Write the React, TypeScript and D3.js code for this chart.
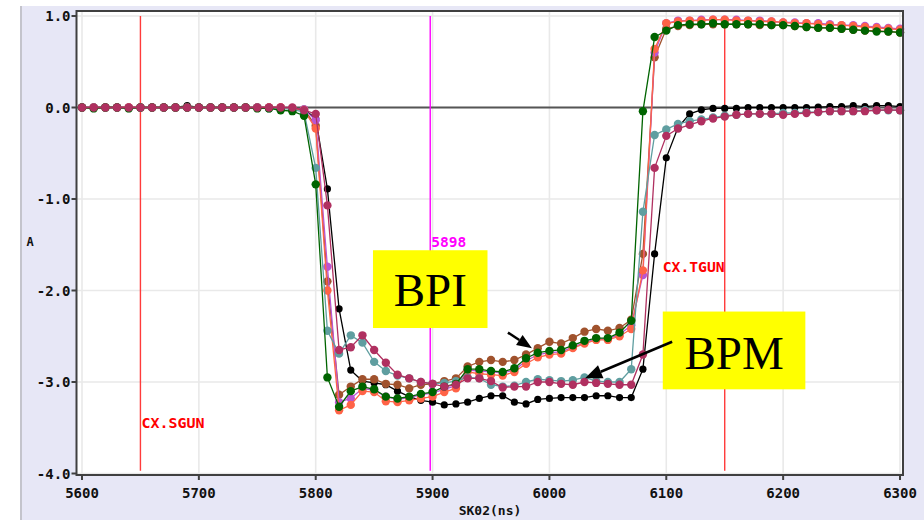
import React from 'react';
import * as d3 from 'd3';

// sample times, every 10 ns
const times = d3.range(5600, 6301, 10);

const xTicks = [5600, 5700, 5800, 5900, 6000, 6100, 6200, 6300];
const yTicks = [1, 0, -1, -2, -3, -4];

// values, 5600..6300 ns
const black = [
  0, 0, 0.005, 0, 0, 0, 0, 0, 0, 0.02,
  0, 0, 0, 0, 0, 0, 0, 0, -0.01, -0.02,
  -0.12, -0.89, -2.2, -2.87, -2.99, -3.01, -3.03, -3.1, -3.16, -3.2,
  -3.22, -3.25, -3.24, -3.22, -3.18, -3.15, -3.15, -3.22, -3.24, -3.19,
  -3.18, -3.17, -3.17, -3.17, -3.15, -3.15, -3.17, -3.17, -2.86, -1.6,
  -0.55, -0.22, -0.07, -0.025, -0.01, -0.01, -0.01, 0, 0, 0,
  0, 0, 0, 0.005, 0.01, 0.01, 0.02, 0.01, 0.02, 0.02,
  0.01,
];
const teal = [
  0, 0, 0, 0, -0.005, 0, 0, 0, 0, 0,
  0, 0, 0, 0, 0, 0, -0.01, -0.01, -0.02, -0.05,
  -0.66, -2.44, -2.69, -2.49, -2.57, -2.78, -2.88, -2.93, -2.96, -3.0,
  -3.02, -3.01, -2.99, -2.95, -2.96, -3.03, -3.05, -3.04, -3.0, -2.97,
  -2.98, -2.99, -2.98, -2.95, -2.99, -3.0, -3.0, -2.86, -1.14, -0.3,
  -0.24, -0.18, -0.15, -0.13, -0.11, -0.09, -0.08, -0.07, -0.07, -0.07,
  -0.06, -0.06, -0.05, -0.05, -0.04, -0.04, -0.04, -0.03, -0.03, -0.03,
  -0.03,
];
const maroon = [
  0, 0, 0, 0, 0, 0, 0, 0, 0, 0,
  0, 0, 0, 0, 0, 0, 0, 0, 0, -0.03,
  -0.07, -1.07, -2.65, -2.62, -2.49, -2.65, -2.79, -2.92, -2.96, -3.0,
  -3.02, -3.05, -3.03, -2.96, -2.96, -2.99, -3.06, -3.05, -3.05, -3.0,
  -3.0, -3.02, -3.03, -3.0, -3.01, -3.02, -3.03, -3.03, -2.7, -0.66,
  -0.31, -0.23, -0.19, -0.15, -0.12, -0.1, -0.08, -0.07, -0.07, -0.07,
  -0.08, -0.07, -0.06, -0.05, -0.04, -0.04, -0.04, -0.04, -0.03, -0.025,
  -0.03,
];
const green = [
  0, -0.01, 0, 0, -0.01, 0, 0, 0, 0, 0,
  0, 0, 0, 0, 0, -0.01, -0.01, -0.03, -0.04, -0.09,
  -0.84, -2.95, -3.27, -3.1, -3.05, -3.08, -3.16, -3.18, -3.16, -3.13,
  -3.11, -3.05, -3.02, -2.86, -2.86, -2.88, -2.89, -2.85, -2.74, -2.68,
  -2.66, -2.65, -2.6, -2.55, -2.52, -2.52, -2.46, -2.33, -0.04, 0.77,
  0.84, 0.9, 0.91, 0.91, 0.92, 0.91, 0.91, 0.91, 0.91, 0.9,
  0.9, 0.89, 0.88, 0.87, 0.87, 0.86, 0.85, 0.84, 0.83, 0.83,
  0.82,
];
const tomato = [
  0, 0, 0, 0, 0, 0, 0, 0, 0, 0,
  0, 0, 0, 0, 0, 0, 0, 0, -0.01, -0.03,
  -0.23, -2.0, -3.31, -3.25, -3.1, -3.11, -3.21, -3.22, -3.2, -3.18,
  -3.16, -3.11, -3.07, -2.89, -2.91, -2.92, -2.93, -2.89, -2.8, -2.73,
  -2.7, -2.69, -2.63, -2.58, -2.54, -2.54, -2.5, -2.42, -1.78, 0.64,
  0.92, 0.94, 0.95, 0.95, 0.96, 0.96, 0.95, 0.95, 0.94, 0.94,
  0.93, 0.92, 0.92, 0.91, 0.9, 0.9, 0.89, 0.88, 0.87, 0.86,
  0.85,
];
const orchid = [
  0, 0, 0, 0, 0, 0, 0, 0, 0, 0,
  0, 0, 0, 0, 0, 0, 0, 0, -0.01, -0.02,
  -0.14, -1.74, -3.22, -3.18, -3.07, -3.09, -3.16, -3.19, -3.17, -3.14,
  -3.12, -3.08, -3.04, -2.87, -2.88, -2.89, -2.9, -2.87, -2.77, -2.7,
  -2.68, -2.67, -2.62, -2.57, -2.53, -2.53, -2.48, -2.38, -1.83, 0.6,
  0.92, 0.95, 0.95, 0.96, 0.96, 0.96, 0.96, 0.95, 0.95, 0.94,
  0.93, 0.93, 0.92, 0.92, 0.91, 0.9, 0.9, 0.89, 0.88, 0.87,
  0.86,
];
const sienna = [
  0, 0, 0, 0, 0, 0, 0, 0, 0, 0,
  0, 0, 0, 0, 0, 0, 0, 0, -0.01, -0.02,
  -0.2, -1.9, -3.14, -3.05, -2.97, -2.97, -3.02, -3.03, -3.07, -3.03,
  -3.02, -2.99, -2.96, -2.83, -2.78, -2.76, -2.78, -2.76, -2.7, -2.63,
  -2.56, -2.58, -2.52, -2.45, -2.42, -2.44, -2.41, -2.32, -1.6, 0.55,
  0.86, 0.89, 0.9, 0.91, 0.91, 0.91, 0.91, 0.91, 0.9, 0.9,
  0.9, 0.89, 0.88, 0.87, 0.87, 0.86, 0.85, 0.84, 0.84, 0.83,
  0.82,
];

// drawing order, bottom first
const series = [
  { name: 'black', values: black, color: '#000000', r: 3.6 },
  { name: 'sienna', values: sienna, color: '#a0522d', r: 4.2 },
  { name: 'orchid', values: orchid, color: '#ba55d3', r: 4.2 },
  { name: 'tomato', values: tomato, color: '#ff6347', r: 4.2 },
  { name: 'teal', values: teal, color: '#5f9ea0', r: 4.2 },
  { name: 'green', values: green, color: '#006400', r: 4.2 },
  { name: 'maroon', values: maroon, color: '#b03060', r: 4.2 },
];

// markers (time in ns)
const cursors = [
  { t: 5650, color: '#ff3b3b', text: '#ff0000', label: 'CX.SGUN', labelV: -3.5, anchor: 'start', len: 63 },
  { t: 6150, color: '#ff3b3b', text: '#ff0000', label: 'CX.TGUN', labelV: -1.8, anchor: 'end', len: 62 },
  { t: 5898, color: '#ff00ff', text: '#ff00ff', label: '5898', labelV: -1.52, anchor: 'start', len: 35 },
];

// annotation boxes and arrows, data coords
const boxes = [
  { label: 'BPI', t0: 5849, t1: 5947, v0: -1.56, v1: -2.41, tx: 5898, tv: -2.17 },
  { label: 'BPM', t0: 6097, t1: 6219, v0: -2.23, v1: -3.08, tx: 6158, tv: -2.86 },
];
const arrows = [
  { t0: 5964.5, v0: -2.46, t1: 5985, v1: -2.63, head: 15, w: 12, sw: 2.5 },
  { t0: 6105, v0: -2.56, t1: 6030.5, v1: -2.96, head: 17, w: 14, sw: 2.5 },
];

const W = 924;
const H = 520;
const mono = '"DejaVu Sans Mono", monospace';

export default function App() {
  const x = d3.scaleLinear().domain([5600, 6300]).range([82, 900]);
  const y = d3.scaleLinear().domain([-4, 1]).range([473.5, 16]);

  const frame = { left: 76.5, right: 903, top: 11, bottom: 475 };

  const line = d3
    .line<number>()
    .x((_, i) => x(times[i]))
    .y((d) => y(d));

  const arrowShape = (a) => {
    const x0 = x(a.t0), y0 = y(a.v0), x1 = x(a.t1), y1 = y(a.v1);
    const len = Math.hypot(x1 - x0, y1 - y0);
    const ux = (x1 - x0) / len, uy = (y1 - y0) / len;
    const bx = x1 - ux * a.head, by = y1 - uy * a.head;
    const nx = -uy * (a.w / 2), ny = ux * (a.w / 2);
    return { x0, y0, bx, by, pts: `${x1},${y1} ${bx + nx},${by + ny} ${bx - nx},${by - ny}` };
  };

  return (
    <svg
      width={W}
      height={H}
      style={{ position: 'absolute', left: 0, top: 0, display: 'block' }}
    >
      <rect x={0} y={0} width={W} height={H} fill="#ffffff" />
      <rect x={20} y={6} width={W - 20} height={H - 6} fill="#e7e7f6" />
      <line x1={21} x2={21} y1={6} y2={H} stroke="#c4c4cc" strokeWidth={2} />

      {/* plot area */}
      <rect
        x={frame.left}
        y={frame.top}
        width={frame.right - frame.left}
        height={frame.bottom - frame.top}
        fill="#ffffff"
      />

      {/* grid */}
      {xTicks.map((t) => (
        <line key={'gx' + t} x1={x(t)} x2={x(t)} y1={frame.top} y2={frame.bottom} stroke="#e9e9e9" strokeWidth={1.6} />
      ))}
      {yTicks.map((v) => (
        <line key={'gy' + v} x1={frame.left} x2={frame.right} y1={y(v)} y2={y(v)} stroke="#e9e9e9" strokeWidth={1.6} />
      ))}

      {/* zero line */}
      <line x1={frame.left} x2={frame.right} y1={y(0)} y2={y(0)} stroke="#555555" strokeWidth={2} />

      {/* cursors */}
      {cursors.map((c) => (
        <line key={'c' + c.t} x1={x(c.t)} x2={x(c.t)} y1={y(1)} y2={y(-3.97)} stroke={c.color} strokeWidth={1.4} />
      ))}

      {/* series */}
      {series.map((s) => (
        <g key={s.name}>
          <path d={line(s.values) || ''} fill="none" stroke={s.color} strokeWidth={1.3} />
          {s.values.map((v, i) => (
            <circle key={i} cx={x(times[i])} cy={y(v)} r={s.r} fill={s.color} />
          ))}
        </g>
      ))}

      {/* cursor labels */}
      {cursors.map((c) => (
        <text
          key={'l' + c.t}
          x={c.anchor === 'end' ? x(c.t) : x(c.t) + 1}
          y={y(c.labelV)}
          textAnchor={c.anchor}
          fill={c.text}
          fontFamily={mono}
          fontWeight="bold"
          fontSize={14}
          textLength={c.len}
          lengthAdjust="spacingAndGlyphs"
        >
          {c.label}
        </text>
      ))}

      {/* frame */}
      <rect
        x={frame.left}
        y={frame.top}
        width={frame.right - frame.left}
        height={frame.bottom - frame.top}
        fill="none"
        stroke="#404040"
        strokeWidth={2}
      />

      {/* axes ticks + labels */}
      {yTicks.map((v) => (
        <g key={'ty' + v}>
          <line x1={frame.left - 5} x2={frame.left} y1={y(v)} y2={y(v)} stroke="#404040" strokeWidth={2} />
          <text
            x={frame.left - 6}
            y={y(v) + 5}
            textAnchor="end"
            fontFamily={mono}
            fontWeight="bold"
            fontSize={14}
            fill="#111"
          >
            {d3.format('.1f')(v).replace('−', '-')}
          </text>
        </g>
      ))}
      {xTicks.map((t) => (
        <g key={'tx' + t}>
          <line x1={x(t)} x2={x(t)} y1={frame.bottom} y2={frame.bottom + 5} stroke="#404040" strokeWidth={2} />
          <text
            x={x(t)}
            y={497.5}
            textAnchor="middle"
            fontFamily={mono}
            fontWeight="bold"
            fontSize={14}
            fill="#111"
          >
            {t}
          </text>
        </g>
      ))}
      <text x={30} y={246} textAnchor="middle" fontFamily={mono} fontWeight="bold" fontSize={12} fill="#111">
        A
      </text>
      <text x={490} y={515} textAnchor="middle" fontFamily={mono} fontWeight="bold" fontSize={13} fill="#111">
        SK02(ns)
      </text>

      {/* annotations */}
      {boxes.map((b) => (
        <g key={b.label}>
          <rect
            x={x(b.t0)}
            y={y(b.v0)}
            width={x(b.t1) - x(b.t0)}
            height={y(b.v1) - y(b.v0)}
            fill="#ffff00"
          />
          <text
            x={x(b.tx)}
            y={y(b.tv)}
            textAnchor="middle"
            fontFamily='"Liberation Serif", "Times New Roman", serif'
            fontSize={47}
            fill="#000"
          >
            {b.label}
          </text>
        </g>
      ))}
      {arrows.map((a, i) => {
        const s = arrowShape(a);
        return (
          <g key={'a' + i}>
            <line x1={s.x0} y1={s.y0} x2={s.bx} y2={s.by} stroke="#000" strokeWidth={a.sw} />
            <polygon points={s.pts} fill="#000" />
          </g>
        );
      })}
    </svg>
  );
}
